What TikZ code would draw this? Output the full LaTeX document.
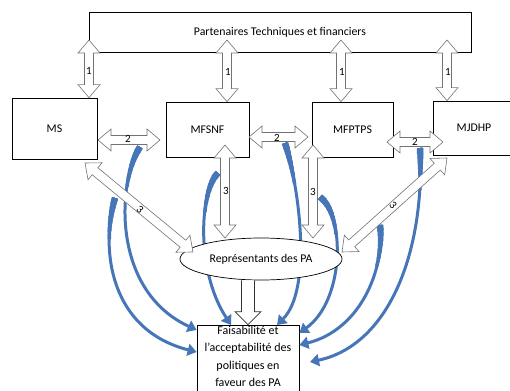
\documentclass[tikz,border=0pt]{standalone}
\usepackage{fontspec}
\setmainfont{Carlito}
\usetikzlibrary{calc,arrows.meta,shapes.geometric}
\definecolor{pablue}{RGB}{70,118,184}
\definecolor{argray}{RGB}{115,115,115}
% hollow double block arrow between two named coordinates
\newcommand{\dblarrow}[3]{%
  \coordinate (#3-p) at ($(#1)!13pt!(#2)$);
  \coordinate (#3-q) at ($(#2)!13pt!(#1)$);
  \draw[hollow] (#1) -- ($(#3-p)!11pt!90:(#2)$) -- ($(#3-p)!4.5pt!90:(#2)$)
    -- ($(#3-q)!4.5pt!-90:(#1)$) -- ($(#3-q)!11pt!-90:(#1)$) -- (#2)
    -- ($(#3-q)!11pt!90:(#1)$) -- ($(#3-q)!4.5pt!90:(#1)$)
    -- ($(#3-p)!4.5pt!-90:(#2)$) -- ($(#3-p)!11pt!-90:(#2)$) -- cycle;}
% blue curved arrow, tapering from a thick start
\newcommand{\bluecurve}[2]{%
  \draw[bluearr] #1 #2;
  \foreach \w/\l in {6.5/6,6/11,5.5/16,5/21,4.5/27,4/34,3.5/42}{%
    \draw[pablue, line width=\w pt, dash pattern=on \l pt off 3000pt] #1 #2;}}
\begin{document}
\begin{tikzpicture}[x=1pt,y=-1pt,
  box/.style={draw=black, line width=0.7pt, fill=white, inner sep=0pt, font=\fontsize{11.8}{13}\selectfont},
  hollow/.style={draw=argray, line width=0.6pt, fill=white, line join=miter},
  bluearr/.style={draw=pablue, line width=3pt, -{Triangle[width=12pt,length=9pt]}},
  num/.style={font=\fontsize{11}{12}\selectfont, inner sep=0pt}]
\useasboundingbox (0,0) rectangle (510,390);
\clip (0,0) rectangle (510,390);
% boxes
\node[box, minimum width=382, minimum height=40] (ptf) at (280,32) {Partenaires Techniques et financiers};
\node[box, minimum width=85, minimum height=61] (ms) at (54.5,128.5) {MS};
\node[box, minimum width=83, minimum height=55] (mfsnf) at (207.5,129.5) {MFSNF};
\node[box, minimum width=81, minimum height=55] (mfptps) at (352.5,129.5) {MFPTPS};
\node[box, minimum width=82, minimum height=54] (mjdhp) at (474,128) {MJDHP};
\node[box, minimum width=102, minimum height=75] (feas) at (248,362.5) {};
\node[inner sep=0pt, align=center, anchor=north, font=\fontsize{12}{17.5}\selectfont] (feastxt) at ($(feas.north)+(0,1)$)
  {Faisabilit\'e et\\l'acceptabilit\'e des\\politiques en\\faveur des PA};
% blue curved arrows
\coordinate (b1s) at (140,147);
\coordinate (b2s) at (115,198);
\coordinate (b3s) at (218,173);
\coordinate (b4s) at (285,143);
\coordinate (b5s) at (320,197);
\coordinate (b6s) at (380,225);
\coordinate (b7s) at (420,148);
\bluecurve{(b1s)}{.. controls (118,180) and (110,290) .. (feas.west |- 0,330)}
\bluecurve{(b2s)}{.. controls (100,250) and (110,330) .. (feas.west |- 0,352)}
\bluecurve{(b3s)}{.. controls (200,190) and (195,270) .. (231,325)}
\bluecurve{(b4s)}{.. controls (300,190) and (312,290) .. (277,325)}
\bluecurve{(b5s)}{.. controls (345,215) and (345,300) .. (feas.east |- 0,333)}
\bluecurve{(b6s)}{.. controls (385,270) and (360,330) .. (feas.east |- 0,345)}
\bluecurve{(b7s)}{.. controls (425,250) and (390,345) .. (310,362)}
% ellipse
\node[draw=black, line width=0.7pt, fill=white, ellipse, minimum width=162, minimum height=42, inner sep=0pt,
  font=\fontsize{11.8}{13}\selectfont] (rep) at (261,259) {Repr\'esentants des PA};
% arrows 1
\coordinate (u1) at (89,40);  \coordinate (d1) at (ms.north -| u1);
\coordinate (u2) at (227,40); \coordinate (d2) at (mfsnf.north -| u2);
\coordinate (u3) at (341,40); \coordinate (d3) at (mfptps.north -| u3);
\coordinate (u4) at (447,40); \coordinate (d4) at (mjdhp.north -| u4);
\dblarrow{u1}{d1}{a1}
\dblarrow{u2}{d2}{a2}
\dblarrow{u3}{d3}{a3}
\dblarrow{u4}{d4}{a4}
\node[num] at (89,71) {1};
\node[num] at (228,72) {1};
\node[num] at (342,72) {1};
\node[num] at (448,72) {1};
% arrows 2
\coordinate (h1a) at (98,140);  \coordinate (h1b) at (160,140);
\coordinate (h2a) at (249,137); \coordinate (h2b) at (308,137);
\coordinate (h3a) at (387,142); \coordinate (h3b) at (443,142);
\dblarrow{h1a}{h1b}{c1}
\dblarrow{h2a}{h2b}{c2}
\dblarrow{h3a}{h3b}{c3}
\node[num] at (128,139) {2};
\node[num] at (277,138) {2};
\node[num] at (415,142) {2};
% arrows 3
\coordinate (v1a) at (225,145); \coordinate (v1b) at (225,238);
\coordinate (v2a) at (313,145); \coordinate (v2b) at (313,238);
\coordinate (g1a) at (85,163);  \coordinate (g1b) at (193,252);
\coordinate (g2a) at (447,158); \coordinate (g2b) at (342,252);
\dblarrow{v1a}{v1b}{e1}
\dblarrow{v2a}{v2b}{e2}
\dblarrow{g1a}{g1b}{e3}
\dblarrow{g2a}{g2b}{e4}
\node[num] at (226,191) {3};
\node[num] at (313,192) {3};
\node[num, rotate=-40] at (140,210) {3};
\node[num, rotate=-48] at (393,205) {3};
% big down arrow (single hollow block arrow)
\coordinate (k2) at (feas.north);
\coordinate (k1) at (k2 |- rep.south);
\coordinate (kl) at ($(k2)+(-6.5,-13)$);
\coordinate (kr) at ($(k2)+(6.5,-13)$);
\draw[hollow, draw=black!80, line width=0.7pt] (k1 -| kl) -- (kl) -- ++(-6.5,0) -- (k2) -- ($(kr)+(6.5,0)$) -- (kr) -- (k1 -| kr);
\end{tikzpicture}
\end{document}
